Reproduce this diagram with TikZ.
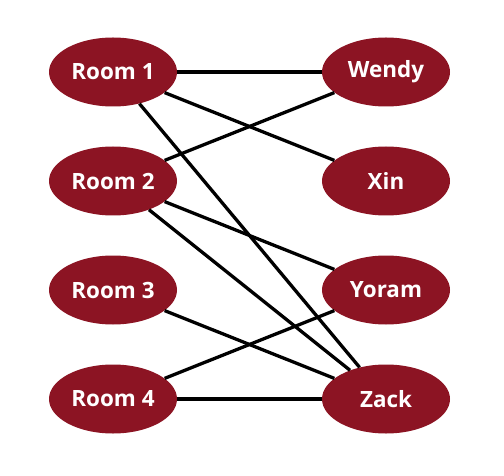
\documentclass[tikz,border=0pt]{standalone}
\usepackage{fontspec}
\setmainfont{Open Sans}
\usetikzlibrary{shapes.geometric}
\definecolor{roomred}{RGB}{140,20,35}
\begin{document}
\begin{tikzpicture}[x=1bp,y=-1bp,
  vert/.style={ellipse,fill=roomred,text=white,minimum width=128bp,minimum height=69bp,
    inner sep=0pt,font=\fontsize{22.5}{24}\selectfont\bfseries},
  edge/.style={line width=3.3bp,black}]
  \useasboundingbox (0,0) rectangle (504,476);
  \foreach \i/\y in {1/72,2/181,3/290,4/399} {
    \node[vert] (r\i) at (113,\y) {Room \i};
  }
  \node[vert] (wendy) at (386,72)  {Wendy};
  \node[vert] (xin)   at (386,181) {Xin};
  \node[vert] (yoram) at (386,290) {Yoram};
  \node[vert] (zack)  at (386,399) {Zack};
  \draw[edge] (r1) -- (wendy);
  \draw[edge] (r1) -- (xin);
  \draw[edge] (r1) -- (zack);
  \draw[edge] (r2) -- (wendy);
  \draw[edge] (r2) -- (yoram);
  \draw[edge] (r2) -- (zack);
  \draw[edge] (r3) -- (zack);
  \draw[edge] (r4) -- (yoram);
  \draw[edge] (r4) -- (zack);
\end{tikzpicture}
\end{document}
